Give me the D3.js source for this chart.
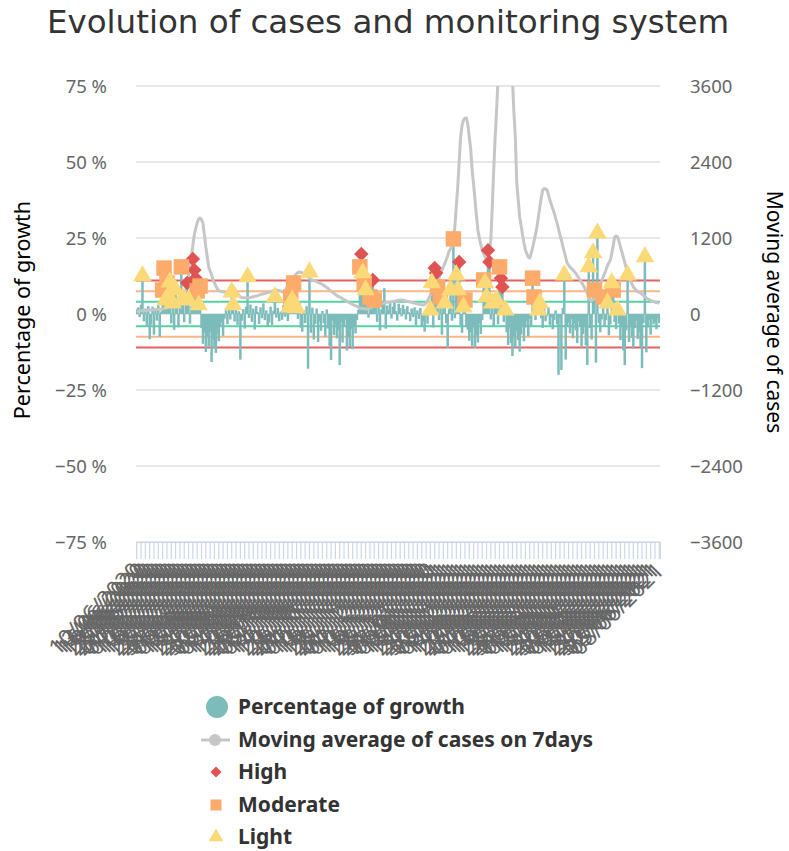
<!DOCTYPE html>
<html>
<head>
<meta charset="utf-8">
<script src="https://cdn.jsdelivr.net/npm/d3@7"></script>
<style>
  body { margin: 0; background: #fff; }
  svg text { font-family: "Noto Sans", "DejaVu Sans", sans-serif; }
</style>
</head>
<body>
<svg id="chart" width="789" height="851"></svg>
<script>
// daily growth of cases (%)
const growth = [
  1.5, 2.2, -1.0, 3.1, 12.5, -2.4, 1.8, -4.2, 2.6, -8.3,
  -3.5, 2.4, -6.8, 1.9, -2.2, 3.4, -7.5, 0.8, 7.9, 15.1,
  4.6, 10.2, 5.9, 10.5, -3.1, 3.6, -5.2, 7.9, 2.1, -4.4,
  2.8, 15.5, 5.3, -2.7, 4.1, 10.2, 4.6, -3.2, 2.5, 18.1,
  14.5, 11.8, 7.6, 3.0, 9.2, -4.6, -9.8, -6.2, -12.5, -7.4,
  -10.6, -5.8, -15.8, -8.4, -11.2, -12.8, -6.5, -9.0, -4.2, -2.8,
  -7.2, -1.5, 1.2, -3.4, 2.0, -1.8, 7.2, 3.0, -2.5, 1.4,
  -3.6, 0.9, -15.0, -2.2, 1.6, -4.8, 2.4, 12.2, -1.3, 3.1,
  -2.6, 1.8, -5.1, 2.6, 0.7, -3.3, 2.2, -1.4, 3.5, -2.0,
  1.2, -4.0, -2.8, 2.4, -3.6, 1.1, 5.6, -1.2, 2.0, -2.4,
  0.8, -1.9, 3.0, -0.9, 1.5, -2.3, 2.3, 5.6, 4.6, 10.2,
  3.2, 2.0, -1.6, 3.8, -4.5, -5.8, 1.2, -3.0, 2.6, -18.0,
  13.8, -6.2, 2.1, -8.4, -3.3, 1.8, -9.2, -2.4, -5.5, 1.0,
  -3.0, -7.6, 1.5, -4.8, -10.5, -15.1, -2.2, -6.9, -3.5, -8.0,
  -5.2, -16.8, -2.6, -9.4, -4.1, -1.8, -12.0, -7.5, -10.8, -5.0,
  -11.6, -3.8, -6.4, -2.0, 1.4, 15.5, 19.7, 13.5, 10.2, 7.9,
  2.4, -1.2, 5.6, 1.8, 11.2, 4.6, 2.2, -2.6, 3.0, -5.4,
  1.6, 3.2, 8.5, -4.8, 2.8, 1.2, 3.6, -1.5, 2.4, 4.0,
  1.0, -2.2, 3.4, 2.0, -0.8, 3.0, 1.6, -1.8, 2.6, 0.6,
  -2.4, 1.8, -1.0, 2.2, -3.6, 1.2, -1.6, 2.0, -4.0, -2.4,
  -5.8, 1.0, -3.2, 2.2, 1.3, 10.2, -4.4, 15.1, 13.5, 8.9,
  -2.0, 5.6, -6.8, 2.4, 3.6, -3.0, -11.2, 1.6, 7.9, -2.2,
  24.7, -1.4, 12.8, 7.9, 17.1, -3.6, -6.2, 2.3, 4.6, -4.0,
  -5.2, -8.8, -6.0, -10.6, -4.4, -11.2, -7.0, -9.4, -3.2, -6.6,
  -2.0, 11.2, 10.2, 5.6, 21.0, 17.1, -1.8, 3.6, -4.2, 2.0,
  4.6, -3.4, 15.5, 11.8, 8.9, -2.6, 1.3, -6.0, -10.2, -4.8,
  -9.6, -13.8, -7.2, -11.0, -5.6, -8.6, -12.4, -6.8, -3.6, -9.0,
  -4.4, -2.2, -7.4, -1.6, -3.8, 11.8, 5.6, -2.0, 1.0, 1.3,
  3.6, -1.4, -4.6, 1.8, -2.4, -0.8, 2.2, -3.6, -1.0, -5.0,
  -2.0, 1.2, -3.4, -20.0, -1.2, -18.4, 2.0, 12.8, -15.0, -4.0,
  -2.8, -6.4, -1.6, -8.0, -3.2, -5.4, -9.6, -2.4, -4.2, -11.0,
  -6.6, -3.8, -10.2, -16.8, 15.5, -4.6, -8.4, 20.1, 7.9, -16.0,
  26.6, -3.0, -6.0, -1.8, 5.6, -4.2, -2.0, 3.6, -7.0, -3.4,
  10.2, 7.9, -2.6, -5.0, 1.3, -3.2, -8.6, -4.0, -12.0, -16.8,
  -5.4, 12.8, -9.2, -3.6, -7.8, -11.4, -4.6, -2.2, -8.2, -6.0,
  -10.8, -17.8, -3.0, 18.8, -12.6, -4.4, -2.0, -6.8, -1.6, -3.4,
  -2.6, -5.0, -1.4, -3.0
];

// 7-day moving average of cases
const movingAvg = [
  40, 42, 47, 50, 52, 55, 56, 58, 60, 63,
  64, 66, 68, 70, 71, 73, 74, 76, 79, 85,
  92, 100, 110, 120, 130, 142, 155, 170, 188, 205,
  221, 250, 290, 335, 379, 470, 600, 774, 920, 1080,
  1247, 1350, 1440, 1500, 1516, 1490, 1437, 1250, 1058, 900,
  742, 680, 620, 537, 490, 440, 395, 370, 360, 355,
  350, 348, 345, 347, 360, 385, 410, 426, 400, 360,
  320, 290, 268, 262, 258, 255, 254, 253, 255, 260,
  266, 272, 278, 284, 290, 298, 305, 312, 320, 326,
  332, 338, 345, 352, 360, 366, 372, 379, 374, 368,
  360, 352, 347, 365, 400, 440, 490, 530, 560, 584,
  610, 635, 655, 663, 660, 650, 640, 632, 612, 592,
  570, 550, 537, 528, 520, 512, 500, 490, 478, 465,
  450, 436, 420, 400, 379, 362, 345, 328, 310, 290,
  278, 268, 255, 240, 228, 215, 200, 186, 174, 162,
  150, 140, 130, 120, 108, 95, 90, 86, 82, 80,
  79, 85, 95, 105, 115, 125, 135, 142, 150, 158,
  165, 170, 175, 180, 184, 187, 189, 192, 196, 200,
  205, 212, 218, 221, 220, 216, 212, 206, 200, 194,
  189, 184, 178, 172, 166, 160, 155, 150, 146, 142,
  150, 175, 210, 255, 300, 345, 390, 440, 490, 537,
  580, 630, 690, 742, 800, 860, 920, 990, 1030, 1058,
  1200, 1374, 1700, 2005, 2400, 2800, 2980, 3063, 3090, 3095,
  3000, 2795, 2600, 2274, 2050, 1800, 1550, 1326, 1200, 1100,
  1010, 950, 900, 860, 853, 1000, 1168, 1700, 2274, 2800,
  3221, 3700, 4100, 4400, 4600, 4650, 4600, 4450, 4250, 4000,
  3850, 3700, 3200, 2795, 2068, 1800, 1532, 1400, 1250, 1120,
  1010, 950, 900, 884, 960, 1042, 1150, 1260, 1374, 1530,
  1690, 1830, 1958, 1980, 1975, 1958, 1880, 1800, 1730, 1660,
  1595, 1510, 1437, 1340, 1250, 1168, 1070, 979, 890, 805,
  770, 740, 715, 695, 670, 640, 605, 570, 537, 500,
  460, 420, 380, 332, 270, 221, 210, 230, 253, 300,
  350, 400, 460, 520, 584, 640, 700, 760, 810, 853,
  960, 1080, 1216, 1230, 1216, 1150, 1060, 980, 900, 820,
  730, 647, 590, 530, 475, 426, 400, 375, 355, 342,
  332, 315, 295, 270, 253, 240, 228, 215, 205, 197,
  189, 182, 176, 170
];

// alert levels: [day index, growth %]
const highPoints = [[35,10.2],[39,18.1],[40,14.5],[41,11.8],[156,19.7],[164,11.2],[207,15.1],[208,13.5],[224,17.1],[244,21.0],[245,17.1],[253,11.8],[254,8.9]];
const moderatePoints = [[18,7.9],[19,15.1],[21,10.2],[31,15.5],[42,7.6],[44,9.2],[107,5.6],[109,10.2],[155,15.5],[158,10.2],[162,5.6],[165,4.6],[209,8.9],[211,5.6],[220,24.7],[228,4.6],[241,11.2],[252,15.5],[275,11.8],[276,5.6],[318,7.9],[324,5.6],[331,7.9]];
const lightPoints = [[4,12.5],[20,4.6],[22,5.9],[23,10.5],[25,3.6],[27,7.9],[32,5.3],[36,4.6],[43,3.0],[66,7.2],[67,3.0],[77,12.2],[96,5.6],[106,2.3],[108,4.6],[111,2.0],[120,13.8],[157,13.5],[159,7.9],[204,1.3],[205,10.2],[214,3.6],[218,7.9],[222,12.8],[223,7.9],[227,2.3],[242,10.2],[243,5.6],[247,3.6],[250,4.6],[256,1.3],[279,1.3],[280,3.6],[297,12.8],[314,15.5],[317,20.1],[320,26.6],[327,3.6],[330,10.2],[334,1.3],[341,12.8],[353,18.8]];

const leftTicks = [-75, -50, -25, 0, 25, 50, 75];
const rightTicks = [-3600, -2400, -1200, 0, 1200, 2400, 3600];
const thresholds = [
  { v: 4, color: "#52d3a1" },
  { v: 7.5, color: "#fdb683" },
  { v: 11, color: "#e4615f" }
];

const startDay = new Date(2020, 5, 10);
const categories = d3.timeDay.range(startDay, d3.timeDay.offset(startDay, growth.length));
const fmtDay = d3.timeFormat("%d/%m/%Y");

const svg = d3.select("#chart");
const W = 789, H = 851;
const plot = { left: 136, right: 660, top: 86, bottom: 542 };

svg.append("rect").attr("width", W).attr("height", H).attr("fill", "#fff");

const x = d3.scaleBand().domain(d3.range(growth.length)).range([plot.left, plot.right]);
const y = d3.scaleLinear().domain([-75, 75]).range([plot.bottom, plot.top]);
const y2 = d3.scaleLinear().domain([-3600, 3600]).range([plot.bottom, plot.top]);
const minus = s => String(s).replace("-", "\u2212");

// title
svg.append("text").attr("x", 388).attr("y", 33).attr("text-anchor", "middle")
  .style("font-family", "'DejaVu Sans', sans-serif")
  .attr("font-size", 32.5).attr("fill", "#333").text("Evolution of cases and monitoring system");

// grid
svg.append("g").selectAll("line").data(leftTicks).join("line")
  .attr("x1", plot.left).attr("x2", plot.right)
  .attr("y1", d => y(d)).attr("y2", d => y(d))
  .attr("stroke", "#e6e6e6").attr("stroke-width", 2);

// left axis
const gl = svg.append("g").attr("transform", `translate(${plot.left - 26},0)`)
  .call(d3.axisLeft(y).tickValues(leftTicks).tickSize(0).tickFormat(d => minus(d) + " %"));
gl.select(".domain").remove();
gl.selectAll("text").attr("font-size", 18.5).attr("fill", "#666").attr("dy", "0.35em");

// right axis
const gr = svg.append("g").attr("transform", `translate(${plot.right + 27},0)`)
  .call(d3.axisRight(y2).tickValues(rightTicks).tickSize(0).tickFormat(d => minus(d)));
gr.select(".domain").remove();
gr.selectAll("text").attr("font-size", 18.5).attr("fill", "#666").attr("dy", "0.35em");

// axis titles
svg.append("text").attr("transform", `translate(30,${y(0) - 4}) rotate(-90)`)
  .attr("text-anchor", "middle").attr("font-size", 21.5).attr("fill", "#000")
  .text("Percentage of growth");
svg.append("text").attr("transform", `translate(767,${y(0) - 2}) rotate(90)`)
  .attr("text-anchor", "middle").attr("font-size", 21).attr("fill", "#000")
  .text("Moving average of cases");

// x axis
const tickIdx = d3.range(0, growth.length, 3);
const gx = svg.append("g").attr("transform", `translate(0,${plot.bottom})`)
  .call(d3.axisBottom(x).tickValues(tickIdx).tickSize(17).tickFormat(i => fmtDay(categories[i])));
gx.select(".domain").attr("stroke", "#ccd6eb").attr("stroke-width", 1);
gx.selectAll(".tick line").attr("stroke", "#ccd6eb").attr("stroke-width", 1.2);
gx.selectAll(".tick text")
  .attr("font-size", 22.5).attr("fill", "#666")
  .attr("text-anchor", "end").attr("dy", null).attr("y", 0)
  .attr("transform", "translate(6,30) rotate(-45)");

// threshold lines
const thr = svg.append("g");
thresholds.forEach(t => {
  [t.v, -t.v].forEach(v => {
    thr.append("line").attr("x1", plot.left).attr("x2", plot.right)
      .attr("y1", y(v)).attr("y2", y(v))
      .attr("stroke", t.color).attr("stroke-width", 2);
  });
});

// clip
svg.append("clipPath").attr("id", "clip").append("rect")
  .attr("x", plot.left).attr("y", plot.top)
  .attr("width", plot.right - plot.left).attr("height", plot.bottom - plot.top);

const bw = 2.5;
svg.append("g").attr("clip-path", "url(#clip)").selectAll("rect").data(growth).join("rect")
  .attr("x", (d, i) => x(i) + x.bandwidth() / 2 - bw / 2)
  .attr("width", bw)
  .attr("y", d => Math.min(y(d), y(0)))
  .attr("height", d => Math.abs(y(d) - y(0)))
  .attr("fill", "#7cbcbb");

// moving average line
const line = d3.line().x((d, i) => x(i) + x.bandwidth() / 2).y(d => y2(d));
svg.append("path").attr("clip-path", "url(#clip)").datum(movingAvg)
  .attr("d", line).attr("fill", "none")
  .attr("stroke", "#c6c6c6").attr("stroke-width", 3).attr("stroke-linejoin", "round");

// markers
const cx = i => x(i) + x.bandwidth() / 2;
const markers = svg.append("g");
markers.selectAll(".high").data(highPoints).join("path").attr("class", "high")
  .attr("d", d3.symbol(d3.symbolSquare, 105)())
  .attr("transform", d => `translate(${cx(d[0])},${y(d[1])}) rotate(45)`)
  .attr("fill", "#df5453");
markers.selectAll(".mod").data(moderatePoints).join("path").attr("class", "mod")
  .attr("d", d3.symbol(d3.symbolSquare, 240)())
  .attr("transform", d => `translate(${cx(d[0])},${y(d[1])})`)
  .attr("fill", "#fdab6a");
markers.selectAll(".light").data(lightPoints).join("path").attr("class", "light")
  .attr("d", d3.symbol(d3.symbolTriangle, 150)())
  .attr("transform", d => `translate(${cx(d[0])},${y(d[1])})`)
  .attr("fill", "#fbd977");

// legend
const legend = svg.append("g");
const items = [
  { label: "Percentage of growth", y: 707 },
  { label: "Moving average of cases on 7days", y: 740 },
  { label: "High", y: 772 },
  { label: "Moderate", y: 805 },
  { label: "Light", y: 837 }
];
legend.append("circle").attr("cx", 217).attr("cy", items[0].y).attr("r", 11).attr("fill", "#7cbcbb");
legend.append("line").attr("x1", 201).attr("x2", 230).attr("y1", items[1].y).attr("y2", items[1].y)
  .attr("stroke", "#c6c6c6").attr("stroke-width", 3);
legend.append("circle").attr("cx", 215).attr("cy", items[1].y).attr("r", 6).attr("fill", "#c6c6c6");
legend.append("path").attr("d", d3.symbol(d3.symbolSquare, 60)())
  .attr("transform", `translate(216,${items[2].y}) rotate(45)`).attr("fill", "#df5453");
legend.append("path").attr("d", d3.symbol(d3.symbolSquare, 121)())
  .attr("transform", `translate(216,${items[3].y})`).attr("fill", "#fdab6a");
legend.append("path").attr("d", d3.symbol(d3.symbolTriangle, 95)())
  .attr("transform", `translate(216,${items[4].y})`).attr("fill", "#fbd977");
legend.selectAll("text.lab").data(items).join("text").attr("class", "lab")
  .attr("x", 238).attr("y", d => d.y).attr("dy", "0.35em")
  .attr("font-size", 21).attr("font-weight", "bold").attr("fill", "#333")
  .text(d => d.label);
</script>
</body>
</html>
